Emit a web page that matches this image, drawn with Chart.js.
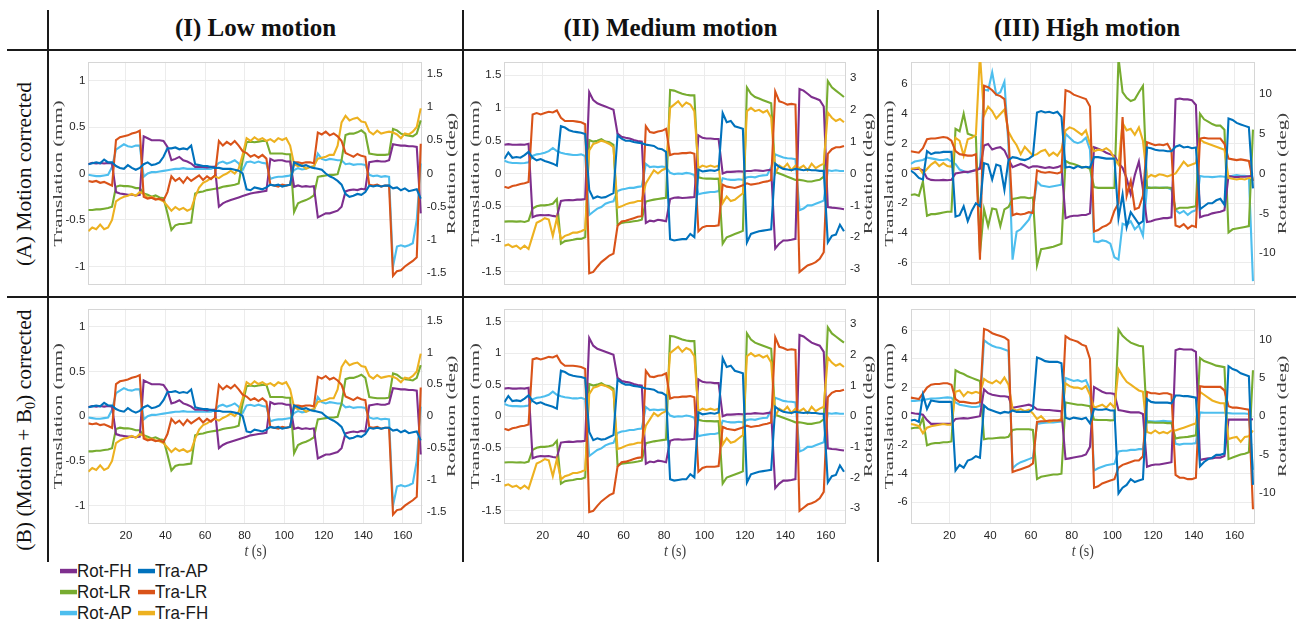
<!DOCTYPE html>
<html>
<head>
<meta charset="utf-8">
<script src="https://cdn.jsdelivr.net/npm/chart.js@4.4.1/dist/chart.umd.min.js"></script>
<style>
  html, body { margin: 0; padding: 0; background: #fff; }
  #fig { position: relative; width: 1296px; height: 623px; overflow: hidden; background: #fff; }
  .rule { position: absolute; background: #1a1a1a; }
  .coltitle { position: absolute; top: 14px; width: 400px; height: 32px; line-height: 32px; text-align: center;
              font: bold 25px "Liberation Serif", "Times New Roman", serif; color: #111; }
  .rowtitle { position: absolute; width: 300px; height: 30px; line-height: 30px; text-align: center;
              font: 21.5px "Liberation Serif", "Times New Roman", serif; color: #111; transform: rotate(-90deg); white-space: nowrap; }
  .rowtitle sub { font-size: 14px; vertical-align: -4px; line-height: 0; }
  canvas { position: absolute; }
  .key { position: absolute; height: 19px; line-height: 19px; white-space: nowrap; color: #1a1a1a;
         font: 17px "Liberation Sans", Arial, sans-serif; transform: scaleY(1.12); transform-origin: left center; }
  .key span { display: inline-block; width: 17px; height: 4px; vertical-align: middle; position: relative; top: -1px; }
</style>
</head>
<body>
<div id="fig"></div>
<script>
// time axis (s), sampled every 2 s
const seconds = [1,3,5,7,9,11,13,15,17,19,21,23,25,27,29,31,33,35,37,39,41,43,45,47,49,51,53,55,57,59,
  61,63,65,67,69,71,73,75,77,79,81,83,85,87,89,91,93,95,97,99,101,103,105,107,109,111,113,115,117,119,
  121,123,125,127,129,131,133,135,137,139,141,143,145,147,149,151,153,155,157,159,161,163,165,167,169];

const timeTicks = [20, 40, 60, 80, 100, 120, 140, 160];
const lowLeftTicks = [-1, -0.5, 0, 0.5, 1];
const lowRightTicks = [-1.5, -1, -0.5, 0, 0.5, 1, 1.5];
const medLeftTicks = [-1.5, -1, -0.5, 0, 0.5, 1, 1.5];
const medRightTicks = [-3, -2, -1, 0, 1, 2, 3];
const highLeftTicks = [-6, -4, -2, 0, 2, 4, 6];
const highRightTicks = [-10, -5, 0, 5, 10];

const columnTitles = ['(I) Low motion', '(II) Medium motion', '(III) High motion'];
const legendOrder = ['Rot-FH', 'Rot-LR', 'Rot-AP', 'Tra-AP', 'Tra-LR', 'Tra-FH'];
const colors = { 'Tra-AP': '#0072BD', 'Tra-LR': '#D95319', 'Tra-FH': '#EDB120',
                 'Rot-FH': '#7E2F8E', 'Rot-LR': '#77AC30', 'Rot-AP': '#4DBEEE' };

// ---- low motion (translation mm, rotation deg) ----
const lowTraAP = [0.10,0.11,0.12,0.11,0.15,0.12,0.12, 0.08,0.06,0.05,0.09,0.06,0.04,0.06, 0.10,0.12,0.09,0.10,0.12,0.18,0.27,
  0.27,0.28,0.26,0.27,0.26,0.30, 0.10,0.09,0.08,0.08,0.07,0.06, 0.06,0.05,0.05,0.05,0.04,0.03,0.00, -0.17,-0.18,-0.15,-0.16,-0.17,-0.15,
  -0.12,-0.13,-0.12,-0.14,-0.13,-0.12, 0.12,0.10,0.08,0.09,0.07,0.06, 0.05,0.04,0.00,-0.03,-0.05,-0.08,-0.12,
  -0.22,-0.25,-0.24,-0.22,-0.23,-0.20, -0.13,-0.14,-0.13,-0.14,-0.13,-0.13, -0.16,-0.15,-0.18,-0.16,-0.19,-0.18,-0.17, -0.27];
const lowTraLR = [-0.08,-0.09,-0.08,-0.10,-0.09,-0.11,-0.13, 0.36,0.39,0.40,0.41,0.43,0.44,0.46, -0.25,-0.27,-0.26,-0.28,-0.27,-0.29,-0.20,
  -0.03,-0.08,-0.05,-0.10,-0.04,-0.08, -0.05,-0.02,-0.07,-0.03,-0.06,-0.02, 0.35,0.30,0.34,0.31,0.35,0.30,0.24, 0.22,0.18,0.20,0.17,0.20,0.16,
  -0.12,-0.13,-0.14,-0.12,-0.13,-0.12, 0.12,0.12,0.11,0.12,0.12,0.11, 0.44,0.42,0.45,0.41,0.43,0.40,0.35,
  0.22,0.20,0.18,0.21,0.19,0.18, -0.12,-0.13,-0.12,-0.14,-0.13,-0.13, -1.10,-1.05,-1.04,-1.00,-0.97,-0.94,-0.90, 0.32];
const lowTraFH = [-0.62,-0.58,-0.60,-0.55,-0.60,-0.58,-0.50, -0.30,-0.27,-0.25,-0.24,-0.22,-0.24,-0.20, -0.22,-0.26,-0.25,-0.27,-0.28,-0.30,-0.35,
  -0.40,-0.36,-0.39,-0.37,-0.40,-0.38, -0.25,-0.15,-0.10,-0.08,-0.05,-0.03, -0.05,-0.02,0.00,0.03,0.00,0.05,0.20, 0.38,0.35,0.39,0.36,0.38,0.35,
  0.37,0.34,0.38,0.36,0.38,0.30, 0.10,0.08,0.09,0.05,0.07,0.08, 0.16,0.17,0.18,0.20,0.20,0.30,0.55,
  0.62,0.57,0.59,0.60,0.56,0.55, 0.45,0.42,0.46,0.43,0.44,0.45, 0.44,0.42,0.38,0.43,0.42,0.45,0.50, 0.70];
const lowRotFH = [0.14,0.16,0.15,0.16,0.15,0.16,0.15, -0.28,-0.30,-0.31,-0.32,-0.32,-0.33,-0.32, 0.56,0.53,0.50,0.50,0.50,0.49,0.40,
  0.20,0.22,0.25,0.20,0.18,0.15, 0.10,0.10,0.10,0.09,0.10,0.10, -0.50,-0.45,-0.42,-0.40,-0.38,-0.36,-0.34, -0.32,-0.30,-0.29,-0.28,-0.27,-0.26,
  0.22,0.19,0.20,0.20,0.18,0.18, -0.20,-0.18,-0.20,-0.19,-0.20,-0.19, -0.66,-0.63,-0.60,-0.60,-0.58,-0.56,-0.50,
  -0.27,-0.25,-0.24,-0.25,-0.23,-0.24, 0.17,0.18,0.19,0.18,0.18,0.20, 0.44,0.43,0.42,0.42,0.41,0.41,0.40, -0.60];
const lowRotLR = [-0.55,-0.55,-0.54,-0.54,-0.53,-0.52,-0.50, -0.20,-0.18,-0.19,-0.19,-0.20,-0.22,-0.22, -0.30,-0.32,-0.35,-0.33,-0.36,-0.37,-0.60,
  -0.85,-0.78,-0.76,-0.76,-0.75,-0.74, -0.30,-0.28,-0.27,-0.25,-0.24,-0.23, -0.22,-0.20,-0.19,-0.18,-0.17,-0.15,0.20, 0.47,0.48,0.47,0.48,0.49,0.49,
  0.30,0.30,0.30,0.30,0.29,0.29, -0.58,-0.45,-0.42,-0.40,-0.37,-0.33, -0.05,-0.04,-0.03,-0.02,-0.02,-0.01,0.20,
  0.58,0.60,0.60,0.62,0.65,0.60, 0.30,0.29,0.28,0.28,0.28,0.29, 0.67,0.65,0.60,0.58,0.57,0.56,0.60, 0.80];
const lowRotAP = [-0.02,-0.03,-0.04,-0.04,-0.03,-0.02,0.10, 0.36,0.40,0.44,0.41,0.40,0.42,0.42, -0.05,0.00,0.02,0.02,0.03,0.04,0.05,
  0.06,0.07,0.07,0.08,0.07,0.07, 0.07,0.07,0.07,0.07,0.07,0.10, 0.16,0.18,0.15,0.17,0.20,0.15,0.05, 0.17,0.18,0.16,0.18,0.16,0.15,
  -0.08,-0.06,-0.05,-0.05,-0.04,-0.03, 0.05,0.08,0.06,0.07,0.10,0.08, 0.30,0.22,0.20,0.22,0.21,0.20,0.20,
  0.14,0.15,0.13,0.14,0.14,0.13, -0.02,-0.04,-0.03,-0.05,-0.04,-0.05, -1.40,-1.10,-1.08,-1.10,-1.08,-1.05,-0.70, 0.15];

// ---- medium motion ----
const medTraAP = [0.22,0.32,0.24,0.25,0.24,0.28,0.33, 0.24,0.20,0.22,0.19,0.17,0.15,0.12, 0.72,0.70,0.66,0.64,0.63,0.62,0.60,
  -0.25,-0.38,-0.35,-0.37,-0.36,-0.33,-0.30, 0.58,0.53,0.50,0.50,0.48,0.47,0.46, 0.44,0.43,0.42,0.38,0.37,0.33,
  -1.00,-1.02,-1.01,-1.00,-1.00,-0.92,-0.97, 0.06,0.03,0.04,0.05,0.04,0.06, 0.92,0.78,0.80,0.72,0.70,0.68,
  -1.05,-0.92,-0.90,-0.88,-0.87,-0.86,-0.85, 0.15,0.10,0.07,0.06,0.05,0.07, 0.06,0.05,0.06,0.05,0.05,0.04,0.04, -1.05,-0.95,-0.93,-0.78,-0.88];
const medTraLR = [-0.20,-0.22,-0.19,-0.18,-0.16,-0.15,-0.13, 0.90,0.92,0.90,0.92,0.94,0.93,0.96, 0.85,0.80,0.80,0.80,0.79,0.78,0.75,
  -1.52,-1.50,-1.42,-1.35,-1.30,-1.25,-1.22, -0.80,-0.73,-0.72,-0.70,-0.68,-0.66,-0.65, 0.72,0.63,0.62,0.64,0.65,0.68,
  0.28,0.30,0.30,0.31,0.31,0.32,0.30, -0.88,-0.82,-0.80,-0.80,-0.80,-0.79, -0.17,-0.20,-0.21,-0.22,-0.20,-0.18,
  -0.15,-0.17,-0.16,-0.15,-0.13,-0.12,-0.10, 1.25,1.10,1.08,1.05,1.06,1.05, -1.50,-1.45,-1.40,-1.38,-1.35,-1.30,-1.20, 0.30,0.37,0.40,0.40,0.42];
const medTraFH = [-1.10,-1.08,-1.12,-1.10,-1.15,-1.10,-1.15, -0.95,-0.75,-0.72,-0.68,-0.70,-0.95,-0.68, -1.00,-0.95,-0.93,-0.90,-0.90,-0.88,-0.85,
  0.35,0.45,0.47,0.50,0.48,0.45,0.40, -0.52,-0.50,-0.47,-0.45,-0.44,-0.42,-0.42, -0.15,-0.05,0.05,0.00,0.05,0.08,
  1.00,1.05,1.10,1.02,1.08,1.05,0.95, 0.08,0.12,0.10,0.12,0.10,0.12, -0.45,-0.35,-0.42,-0.40,-0.35,-0.30,
  0.95,1.00,0.95,0.97,0.93,0.96,0.85, 0.00,0.12,0.08,0.15,0.05,0.12, 0.08,0.12,0.05,0.15,0.08,0.12,0.15, 0.93,0.85,0.80,0.83,0.78];
const medRotFH = [0.90,0.92,0.90,0.90,0.91,0.90,0.93, -1.37,-1.32,-1.30,-1.31,-1.30,-1.33,-1.35, -0.86,-0.84,-0.83,-0.84,-0.82,-0.82,-0.80,
  2.55,2.30,2.20,2.15,2.10,2.05,2.00, 1.25,1.15,1.12,1.10,1.05,1.02,1.00, -1.55,-1.48,-1.50,-1.45,-1.47,-1.50,
  -0.80,-0.76,-0.75,-0.77,-0.76,-0.75,-0.74, 1.20,1.12,1.10,1.10,1.08,1.08, 0.00,0.05,0.05,0.06,0.07,0.06,
  0.08,0.08,0.10,0.09,0.08,0.10,0.12, -2.35,-2.20,-2.10,-2.10,-2.08,-2.05, 2.65,2.60,2.50,2.40,2.35,2.30,2.10, -1.05,-1.07,-1.08,-1.10,-1.12];
const medRotLR = [-1.51,-1.50,-1.50,-1.51,-1.50,-1.52,-1.48, -1.10,-1.03,-1.00,-1.00,-0.98,-0.95,-0.80, -2.20,-2.12,-2.10,-2.08,-2.05,-2.05,-2.00,
  1.05,1.00,1.03,1.08,1.00,0.98,0.90, -1.60,-1.55,-1.53,-1.52,-1.50,-1.48,-1.45, -0.88,-0.85,-0.82,-0.80,-0.78,-0.76,
  2.62,2.60,2.55,2.50,2.47,2.45,2.45, -0.12,-0.15,-0.16,-0.16,-0.17,-0.16, -2.20,-2.00,-1.95,-1.90,-1.85,-1.80,
  2.70,2.50,2.40,2.35,2.30,2.25,2.20, 0.05,0.00,-0.05,-0.10,-0.15,-0.20, -0.20,-0.22,-0.25,-0.25,-0.22,-0.20,-0.10, 2.90,2.70,2.60,2.50,2.40];
const medRotAP = [0.40,0.35,0.33,0.33,0.32,0.33,0.35, 0.55,0.60,0.62,0.65,0.70,0.80,0.70, 0.65,0.62,0.60,0.58,0.58,0.60,0.55,
  -1.30,-1.20,-1.10,-1.05,-0.95,-0.90,-0.87, -0.55,-0.50,-0.48,-0.45,-0.45,-0.42,-0.40, 0.30,0.20,0.22,0.20,0.22,0.20,
  0.02,-0.02,0.00,-0.01,0.02,0.00,-0.05, -0.65,-0.62,-0.60,-0.58,-0.58,-0.55, -0.15,-0.18,-0.20,-0.20,-0.18,-0.20,
  -0.12,-0.10,-0.12,-0.08,-0.06,-0.05,0.20, 0.60,0.55,0.50,0.48,0.47,0.45, -1.15,-1.10,-1.00,-1.00,-0.95,-0.90,-0.85, 0.10,0.08,0.10,0.08,0.08];

// ---- high motion, (A) motion corrected ----
const hiATraAP = [0.20,0.00,-0.30,-0.40, 1.50,1.30,1.40,1.40,1.45,1.45,1.45, -2.90,-2.80,-2.20,-3.20,-2.50,-2.00,-2.20,
  0.70,0.60,-0.40,0.60,0.50,-1.10,0.90, 1.10,1.05,0.95,0.90,1.00,1.20, 4.10,4.20,4.10,4.15,4.05,4.15,3.80,
  0.40,0.45,0.35,0.50,0.40,0.45,0.40, 1.10,1.10,1.05,1.00,1.00,1.00, -3.00,-1.40,-3.60,-2.60,-3.00,-3.40,-3.20,
  1.75,1.70,1.60,1.55,1.55,1.50,1.50, 1.80,1.90,1.75,1.80,1.70,1.75, -2.40,-2.20,-2.00,-2.00,-1.80,-1.70,-2.10, 3.70,3.60,3.40,3.30,3.20,3.10, -1.00];
const hiATraLR = [1.50,1.45,1.40,1.70, 2.30,2.35,2.35,2.40,2.45,2.40,2.20, 1.50,1.30,1.25,1.20,1.20,1.30,-5.80,
  5.90,5.80,5.60,5.30,5.20,5.00,2.50, -2.80,-2.70,-2.75,-2.70,-2.60,-2.65, 0.20,0.10,0.05,0.10,0.05,0.00,0.10,
  5.60,5.50,5.30,5.20,5.10,5.00,4.50, -3.90,-3.80,-3.60,-3.50,-3.30,-2.50, -2.00,3.80,-1.50,-0.50,-2.40,-2.30,-1.50,
  2.10,2.00,1.90,1.95,1.90,2.00,1.50, -3.50,-3.60,-3.40,-3.70,-3.50,-3.60, 2.35,2.40,2.35,2.35,2.35,2.35,2.00, 1.00,0.95,0.90,0.95,0.90,0.85, -0.50];
const hiATraFH = [0.30,0.35,0.40,0.00, 0.30,0.60,0.80,0.50,0.70,0.50,0.45, 2.40,2.20,1.20,2.30,2.40,2.60,8.00,
  3.90,4.50,4.20,3.70,4.00,4.30,2.80, 2.30,1.90,1.30,1.80,1.50,1.20, 1.30,1.50,1.60,1.20,1.40,1.20,1.60,
  2.90,3.10,3.00,2.80,2.60,2.90,2.00, 1.50,1.60,1.55,1.70,1.50,1.00, 0.60,3.40,2.90,3.00,2.60,3.10,2.20,
  -0.30,-0.10,-0.20,-0.05,-0.10,-0.20,-0.10, 0.00,0.40,0.80,0.50,0.60,0.70, 2.30,2.10,2.00,1.90,1.80,1.70,1.60, -0.30,-0.35,-0.40,-0.35,-0.40,-0.30, -0.30];
const hiARotFH = [0.60,0.55,0.60,0.40, -0.60,-0.80,-0.85,-0.85,-0.80,-0.85,-0.80, 0.00,0.10,0.20,0.20,0.30,0.40,0.60,
  3.50,3.70,3.00,3.20,3.30,2.90,1.80, 0.80,1.00,1.20,1.00,0.70,0.90, 0.90,0.80,0.70,0.80,0.70,0.80,1.00,
  -5.60,-5.40,-5.30,-5.30,-5.20,-5.20,-5.00, 3.30,3.10,2.90,2.60,2.40,2.20, 1.30,0.70,-0.60,-2.60,-0.20,1.50,-2.00,
  -6.10,-6.00,-5.80,-5.70,-5.60,-5.60,-5.50, 9.30,9.40,9.30,9.30,9.20,8.60, -5.50,-5.30,-5.20,-5.00,-4.90,-4.80,-4.60, -0.30,-0.40,-0.45,-0.40,-0.40,-0.35, -0.30];
const hiARotLR = [-2.70,-2.60,-2.80,-1.00, -5.30,-5.10,-5.10,-5.00,-4.90,-4.80,-4.80, 5.60,5.30,7.50,5.00,4.80,4.60,-10.0,
  -4.50,-6.60,-4.40,-4.50,-6.60,-4.50,-4.20, -3.20,-3.10,-3.00,-3.00,-3.10,-3.00, -11.5,-9.50,-9.40,-9.30,-9.20,-9.00,-8.80,
  1.60,1.30,1.20,1.00,0.80,0.80,0.60, -1.70,-1.80,-1.80,-1.80,-1.80,-1.80, 14.5,10.2,9.50,9.10,9.30,10.2,11.0,
  -1.80,-1.80,-1.75,-1.80,-1.80,-1.75,-1.80, -4.50,-4.30,-4.30,-4.30,-4.20,-4.10, 7.50,6.80,6.50,6.20,6.00,6.00,5.50, -7.40,-7.00,-6.90,-6.80,-6.70,-6.60, 5.50];
const hiARotAP = [1.20,1.50,1.60,1.70, 2.00,1.90,1.80,1.70,1.70,1.80,1.50, 1.20,0.50,0.30,0.10,0.30,0.50,0.80,
  10.5,10.4,12.7,9.90,10.2,11.5,3.50, -10.8,-7.30,-7.00,-6.40,-5.80,-4.50, -1.00,-1.50,-1.60,-1.70,-1.60,-1.50,-1.40,
  5.00,4.50,4.00,3.80,4.00,4.50,3.00, -8.50,-8.60,-8.40,-8.50,-8.80,-10.5, -10.8,-6.30,-6.50,-6.00,-7.00,-6.50,-7.80,
  -1.70,-1.80,-1.80,-1.80,-1.75,-1.80,-2.00, -4.60,-5.00,-4.70,-5.20,-4.80,-4.60, -0.30,-0.40,-0.40,-0.45,-0.40,-0.35,-0.40, -0.40,-0.30,-0.20,-0.30,-0.30,-0.40, -13.5];

// ---- high motion, (B) motion + B0 corrected ----
const hiBTraAP = [-0.30,-0.25,-0.40,1.50, 0.50,1.10,1.05,1.00,1.00,1.00,1.00, -3.80,-3.40,-3.60,-3.10,-3.00,-2.80,-2.90,
  0.75,0.50,0.40,0.30,0.20,0.30,0.25, 0.40,0.30,0.30,0.30,0.30,0.50, 4.10,4.00,3.85,3.80,3.80,3.80,3.70,
  -0.10,-0.20,-0.10,-0.15,-0.20,-0.10,-0.50, 0.50,0.45,0.45,0.50,0.40,0.40, -5.40,-5.00,-4.80,-4.40,-4.60,-4.50,-4.40,
  1.20,1.00,0.95,0.95,0.95,0.95,0.90, 1.45,1.45,1.40,1.40,1.35,1.30, -3.50,-3.20,-3.00,-2.90,-2.70,-2.70,-2.60, 3.50,3.30,3.20,3.00,2.90,2.80, -4.80];
const hiBTraLR = [1.30,1.25,1.20,1.60, 2.00,2.20,2.25,2.25,2.30,2.30,2.20, 1.20,1.00,1.00,0.95,0.90,0.90,1.00,
  6.10,6.00,5.80,5.70,5.60,5.50,5.30, -3.90,-3.80,-3.70,-3.60,-3.50,-3.30, -0.40,-0.35,-0.35,-0.30,-0.30,-0.30,-0.30,
  5.60,5.40,5.30,5.20,5.00,4.90,4.00, -5.00,-4.90,-4.70,-4.60,-4.50,-4.40, -3.60,-3.40,-3.30,-3.20,-3.10,-3.10,-2.80,
  1.70,1.60,1.60,1.55,1.60,1.60,1.50, -4.10,-4.30,-4.30,-4.40,-4.40,-4.30, 2.10,2.05,2.05,2.05,2.05,2.05,1.80, 0.70,0.60,0.60,0.55,0.50,0.45, -6.50];
const hiBTraFH = [-0.55,-0.60,-0.70,-1.20, -0.80,-0.70,-0.65,-0.60,-0.55,-0.60,-0.60, 1.70,1.80,1.40,1.70,1.60,1.70,1.60,
  2.60,2.40,2.30,2.50,2.30,2.70,2.20, 0.50,0.40,0.50,0.35,0.45,0.20, -0.20,0.00,-0.30,-0.40,-0.30,-0.30,-0.20,
  2.30,2.10,2.00,2.00,1.90,2.10,1.50, 0.60,0.70,0.80,0.60,0.90,0.60, 3.30,2.80,2.40,2.20,2.00,1.80,1.70,
  -1.10,-1.20,-1.00,-1.20,-1.10,-1.20,-1.00, -1.00,-0.90,-0.80,-0.70,-0.60,-0.50, 1.70,1.50,1.30,1.10,1.00,0.90,0.90, -1.60,-1.50,-1.45,-1.80,-1.45,-1.40, -1.00];
const hiBRotFH = [0.45,0.35,0.30,0.20, -0.50,-1.00,-1.00,-1.00,-1.00,-1.00,-1.00, -0.35,-0.30,-0.25,-0.30,-0.20,-0.10,0.00,
  3.50,3.00,2.80,2.70,2.60,2.60,2.50, 1.10,1.20,1.30,1.40,1.50,1.30, 0.90,0.85,0.80,0.80,0.75,0.70,0.65,
  -5.60,-5.50,-5.40,-5.30,-5.20,-5.00,-4.00, 3.80,3.50,3.20,3.00,3.00,2.90, 0.80,0.70,0.60,0.50,0.50,0.50,0.30,
  -6.60,-6.40,-6.30,-6.30,-6.20,-6.10,-6.00, 8.60,8.80,8.70,8.70,8.70,8.40, -5.70,-5.60,-5.50,-5.50,-5.40,-5.40,-5.20, -0.45,-0.45,-0.45,-0.45,-0.45,-0.45, -0.40];
const hiBRotLR = [-1.60,-1.50,-1.50,-0.20, -3.80,-3.60,-3.50,-3.50,-3.40,-3.40,-3.30, 6.00,5.70,5.50,5.20,5.00,4.80,4.60,
  -3.00,-2.90,-2.90,-2.85,-2.80,-2.80,-2.70, -1.80,-1.70,-1.70,-1.70,-1.70,-1.80, -8.20,-7.90,-7.80,-7.70,-7.60,-7.60,-7.50,
  1.80,1.70,1.60,1.50,1.50,1.40,1.30, -0.45,-0.50,-0.50,-0.50,-0.55,-0.50, 11.3,10.5,10.0,9.60,9.40,9.20,9.10,
  -0.80,-0.80,-0.85,-0.85,-0.85,-0.90,-0.90, -2.90,-2.80,-2.75,-2.70,-2.60,-2.50, 7.60,7.20,7.00,6.80,6.60,6.50,6.40, -5.60,-5.40,-5.20,-5.00,-4.90,-4.70, 6.00];
const hiBRotAP = [2.00,2.00,2.05,2.10, 2.20,2.30,2.30,2.35,2.40,2.45,2.40, 1.80,1.50,1.40,1.30,1.20,1.20,1.30,
  9.90,9.50,9.20,9.00,8.90,8.70,8.50, -6.80,-6.30,-6.00,-5.80,-5.60,-5.40, -1.00,-0.90,-0.85,-0.80,-0.80,-0.75,-0.70,
  5.00,4.80,4.60,4.70,4.50,4.70,3.50, -7.10,-6.80,-6.60,-6.40,-6.30,-6.20, -4.60,-4.50,-4.50,-4.40,-4.40,-4.30,-4.30,
  -0.60,-0.65,-0.70,-0.65,-0.60,-0.65,-0.70, -3.60,-3.70,-3.60,-3.60,-3.60,-3.50, 0.50,0.45,0.45,0.45,0.45,0.45,0.45, 0.40,0.35,0.35,0.35,0.35,0.30, -7.00];

const lowSet = { 'Tra-AP': lowTraAP, 'Tra-LR': lowTraLR, 'Tra-FH': lowTraFH, 'Rot-FH': lowRotFH, 'Rot-LR': lowRotLR, 'Rot-AP': lowRotAP };
const medSet = { 'Tra-AP': medTraAP, 'Tra-LR': medTraLR, 'Tra-FH': medTraFH, 'Rot-FH': medRotFH, 'Rot-LR': medRotLR, 'Rot-AP': medRotAP };
const hiASet = { 'Tra-AP': hiATraAP, 'Tra-LR': hiATraLR, 'Tra-FH': hiATraFH, 'Rot-FH': hiARotFH, 'Rot-LR': hiARotLR, 'Rot-AP': hiARotAP };
const hiBSet = { 'Tra-AP': hiBTraAP, 'Tra-LR': hiBTraLR, 'Tra-FH': hiBTraFH, 'Rot-FH': hiBRotFH, 'Rot-LR': hiBRotLR, 'Rot-AP': hiBRotAP };

const fig = document.getElementById('fig');

// frame lines
function rule(l, t, w, h) {
  const d = document.createElement('div');
  d.className = 'rule';
  Object.assign(d.style, { left: l + 'px', top: t + 'px', width: w + 'px', height: h + 'px' });
  fig.appendChild(d);
}
rule(7, 49, 1289, 2);
rule(7, 296, 1289, 2);
[47, 462, 877].forEach(x => rule(x, 10, 2, 552));

// column + row titles
[255.5, 670.5, 1087].forEach((cx, i) => {
  const d = document.createElement('div');
  d.className = 'coltitle';
  d.style.left = (cx - 200) + 'px';
  d.textContent = columnTitles[i];
  fig.appendChild(d);
});
[[173.5, '(A) Motion corrected'], [430, '(B) (Motion + B<sub>0</sub>) corrected']].forEach(([cy, html]) => {
  const d = document.createElement('div');
  d.className = 'rowtitle';
  d.style.left = (27 - 150) + 'px';
  d.style.top = (cy - 15) + 'px';
  d.innerHTML = html;
  fig.appendChild(d);
});

// legend
legendOrder.forEach((name, i) => {
  const d = document.createElement('div');
  d.className = 'key';
  d.style.left = (i < 3 ? 60 : 138) + 'px';
  d.style.top = (561 + (i % 3) * 21) + 'px';
  d.innerHTML = '<span style="background:' + colors[name] + '"></span>' + name;
  fig.appendChild(d);
});

// axis box, side titles and t (s)
const panelFrame = {
  id: 'panelFrame',
  beforeDatasetsDraw(chart) {
    const { ctx, chartArea: a } = chart;
    ctx.save();
    ctx.strokeStyle = '#d6d6d6';
    ctx.lineWidth = 1;
    ctx.strokeRect(Math.round(a.left) + 0.5, Math.round(a.top) + 0.5, Math.round(a.width) - 1, Math.round(a.height) - 1);
    ctx.restore();
  },
  afterDraw(chart, args, o) {
    const { ctx, chartArea: a } = chart;
    const cy = (a.top + a.bottom) / 2;
    ctx.save();
    ctx.fillStyle = '#404040';
    ctx.textAlign = 'center';
    ctx.textBaseline = 'middle';
    ctx.font = '13.5px "Liberation Serif", "Times New Roman", serif';
    const side = (txt, x) => {
      ctx.save();
      ctx.translate(x, cy);
      ctx.rotate(-Math.PI / 2);
      ctx.scale(1.55, 1);
      ctx.fillText(txt, 0, 0);
      ctx.restore();
    };
    side('Translation (mm)', a.left - o.lg);
    side('Rotation (deg)', a.right + o.rg);
    if (o.time) {
      ctx.save();
      ctx.translate((a.left + a.right) / 2, a.bottom + 28);
      ctx.scale(1, 1.2);
      ctx.textAlign = 'left';
      ctx.font = 'italic 14px "Liberation Serif", serif';
      const wt = ctx.measureText('t').width;
      ctx.font = '14px "Liberation Serif", serif';
      const ws = ctx.measureText(' (s)').width;
      const x = -(wt + ws) / 2;
      ctx.font = 'italic 14px "Liberation Serif", serif';
      ctx.fillText('t', x, 0);
      ctx.font = '14px "Liberation Serif", serif';
      ctx.fillText(' (s)', x + wt, 0);
      ctx.restore();
    }
    ctx.restore();
  }
};

const cols = [
  { x: 49, w: 413, lw: 39.3, rw: 39.3, lg: 30, rg: 29 },
  { x: 464, w: 413, lw: 40.3, rw: 31, lg: 29, rg: 22 },
  { x: 879, w: 417, lw: 31.7, rw: 41, lg: 21, rg: 27 }
];
const rows = [
  { y: 51, h: 245, pad: 8.5, xh: 3.5, time: false },
  { y: 298, h: 264, pad: 9.5, xh: 38.5, time: true }
];
const panels = [
  { c: 0, r: 0, set: lowSet, ly: [-1.2, 1.2], ry: [-1.68, 1.68], lt: lowLeftTicks, rt: lowRightTicks },
  { c: 1, r: 0, set: medSet, ly: [-1.7, 1.7], ry: [-3.5, 3.5], lt: medLeftTicks, rt: medRightTicks },
  { c: 2, r: 0, set: hiASet, ly: [-7.5, 7.5], ry: [-14, 14], lt: highLeftTicks, rt: highRightTicks },
  { c: 0, r: 1, set: lowSet, ly: [-1.2, 1.2], ry: [-1.68, 1.68], lt: lowLeftTicks, rt: lowRightTicks },
  { c: 1, r: 1, set: medSet, ly: [-1.7, 1.7], ry: [-3.5, 3.5], lt: medLeftTicks, rt: medRightTicks },
  { c: 2, r: 1, set: hiBSet, ly: [-7.5, 7.5], ry: [-14, 14], lt: highLeftTicks, rt: highRightTicks }
];
const drawOrder = ['Tra-AP', 'Tra-LR', 'Tra-FH', 'Rot-FH', 'Rot-LR', 'Rot-AP'];
const tickFont = { family: '"Liberation Sans", Arial, sans-serif', size: 11.5 };

panels.forEach(p => {
  const col = cols[p.c], row = rows[p.r];
  const cv = document.createElement('canvas');
  cv.width = col.w; cv.height = row.h;
  Object.assign(cv.style, { left: col.x + 'px', top: row.y + 'px', width: col.w + 'px', height: row.h + 'px' });
  fig.appendChild(cv);

  const datasets = drawOrder.map(name => ({
    label: name,
    data: p.set[name].map((v, i) => ({ x: seconds[i], y: v })),
    borderColor: colors[name],
    backgroundColor: colors[name],
    borderWidth: 2.1,
    pointRadius: 0,
    tension: 0,
    fill: false,
    yAxisID: name.startsWith('Rot') ? 'yR' : 'yL'
  }));

  new Chart(cv, {
    type: 'line',
    data: { datasets },
    options: {
      responsive: false,
      animation: false,
      events: [],
      layout: { padding: { top: row.pad, left: 0, right: 0, bottom: 0 } },
      plugins: {
        legend: { display: false },
        tooltip: { enabled: false },
        panelFrame: { lg: col.lg, rg: col.rg, time: row.time }
      },
      scales: {
        x: {
          type: 'linear', min: 1, max: 170,
          afterBuildTicks: s => { s.ticks = timeTicks.map(v => ({ value: v })); },
          afterFit: s => { s.height = row.xh; },
          ticks: { display: row.time, padding: 5, font: tickFont, color: '#262626', maxRotation: 0, callback: v => String(v) },
          grid: { color: '#ececec', drawTicks: false },
          border: { display: false }
        },
        yL: {
          position: 'left', min: p.ly[0], max: p.ly[1],
          afterBuildTicks: s => { s.ticks = p.lt.map(v => ({ value: v })); },
          afterFit: s => { s.width = col.lw; },
          ticks: { padding: 3, font: tickFont, color: '#262626', callback: v => String(v) },
          grid: { color: '#ececec', drawTicks: false },
          border: { display: false }
        },
        yR: {
          position: 'right', min: p.ry[0], max: p.ry[1],
          afterBuildTicks: s => { s.ticks = p.rt.map(v => ({ value: v })); },
          afterFit: s => { s.width = col.rw; },
          ticks: { padding: 4, font: tickFont, color: '#262626', callback: v => String(v) },
          grid: { drawOnChartArea: false, drawTicks: false },
          border: { display: false }
        }
      }
    },
    plugins: [panelFrame]
  });
});
</script>
</body>
</html>
